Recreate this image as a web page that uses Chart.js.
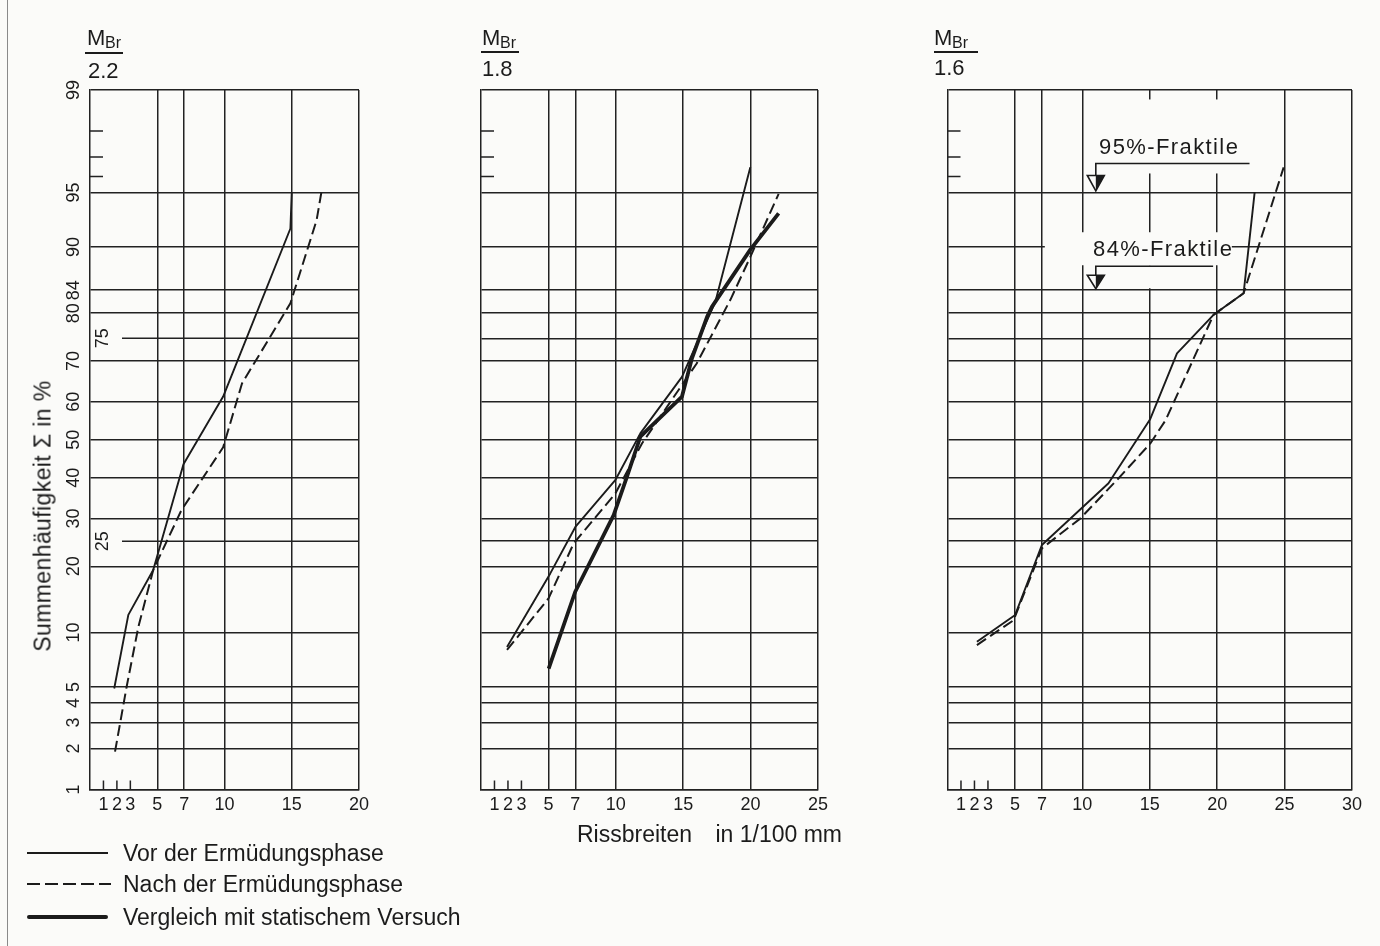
<!DOCTYPE html>
<html lang="de">
<head>
<meta charset="utf-8">
<title>Rissbreiten - Summenhäufigkeit</title>
<script src="https://cdn.jsdelivr.net/npm/chart.js"></script>
<style>
  html, body { margin: 0; padding: 0; }
  body {
    width: 1380px; height: 946px; position: relative; overflow: hidden;
    background: #fbfbf9; color: #1b1b1b;
    font-family: "Liberation Sans", Arial, sans-serif;
  }
  canvas { position: absolute; left: 0; top: 0; }
  .t { position: absolute; white-space: pre; line-height: 1; }
  .bar { position: absolute; height: 2px; background: #1b1b1b; }
  .edge { position: absolute; left: 7px; top: 0; width: 1px; height: 946px; background: #8a8a8a; }
  .lg { position: absolute; left: 27px; width: 81px; background: #1b1b1b; }
</style>
</head>
<body>
<div class="edge"></div>
<canvas id="p1" width="1380" height="946"></canvas>
<canvas id="p2" width="1380" height="946"></canvas>
<canvas id="p3" width="1380" height="946"></canvas>

<!-- panel headers -->
<div class="t" style="left:87px;top:27px;font-size:22px">M</div>
<div class="t" style="left:105px;top:35px;font-size:16px">Br</div>
<div class="bar" style="left:85px;top:52px;width:38px"></div>
<div class="t" style="left:88px;top:60px;font-size:22px">2.2</div>

<div class="t" style="left:482px;top:27px;font-size:22px">M</div>
<div class="t" style="left:500px;top:35px;font-size:16px">Br</div>
<div class="bar" style="left:481px;top:51px;width:38px"></div>
<div class="t" style="left:482px;top:58px;font-size:22px">1.8</div>

<div class="t" style="left:934px;top:27px;font-size:22px">M</div>
<div class="t" style="left:952px;top:35px;font-size:16px">Br</div>
<div class="bar" style="left:934px;top:51px;width:44px"></div>
<div class="t" style="left:934px;top:57px;font-size:22px">1.6</div>

<!-- axis titles -->
<div class="t" style="left:43px;top:516px;font-size:23px;letter-spacing:0.4px;transform:translate(-50%,-50%) rotate(-90deg)">Summenhäufigkeit Σ in %</div>
<div class="t" style="left:577px;top:823px;font-size:23px"><span style="margin-right:17px">Rissbreiten</span> in 1/100 mm</div>

<!-- fractile notes -->
<div class="t" style="left:1099px;top:136px;font-size:22px;letter-spacing:1.4px">95%-Fraktile</div>
<div class="t" style="left:1093px;top:238px;font-size:22px;letter-spacing:1.4px">84%-Fraktile</div>

<!-- legend -->
<div class="lg" style="top:852px;height:2px"></div>
<div class="lg" style="top:883px;height:2px;width:84px;background:repeating-linear-gradient(90deg,#1b1b1b 0 13px,transparent 13px 18px)"></div>
<div class="lg" style="top:915px;height:4px;border-radius:2px"></div>
<div class="t" style="left:123px;top:842px;font-size:23px">Vor der Ermüdungsphase</div>
<div class="t" style="left:123px;top:873px;font-size:23px">Nach der Ermüdungsphase</div>
<div class="t" style="left:123px;top:906px;font-size:23px">Vergleich mit statischem Versuch</div>

<script>
// probability-paper ticks (percent) and crack width ticks (1/100 mm)
const yTickValues = [1, 2, 3, 4, 5, 10, 20, 25, 30, 40, 50, 60, 70, 75, 80, 84, 90, 95, 96, 97, 98, 99];
const yShortTicks = [96, 97, 98];
const yInsideLabels = [25, 75];
const xTicks1 = [1, 2, 3, 5, 7, 10, 15, 20];
const xTicks2 = [1, 2, 3, 5, 7, 10, 15, 20, 25];
const xTicks3 = [1, 2, 3, 5, 7, 10, 15, 20, 25, 30];
const xShortTicks = [1, 2, 3];

// M_Br / 2.2
const vor1X = [1.8, 2.85, 4.7, 6.95, 9.9, 14.9, 15.0];
const vor1Y = [4.9, 12.2, 19.3, 43.5, 61.3, 92, 95];
const nach1X = [1.86, 2.72, 3.6, 4.7, 6.8, 9.9, 11.3, 14.9, 16.85, 17.2];
const nach1Y = [1.9, 5.0, 10.7, 19.3, 32, 48, 64.6, 81.8, 92.8, 95];

// M_Br / 1.8
const vor2X = [1.93, 5.14, 7.0, 9.96, 11.82, 14.91, 17.39, 19.98];
const vor2Y = [8.4, 18.7, 28.1, 39.4, 51.7, 66.2, 82.1, 96.5];
const nach2X = [1.93, 5.02, 6.87, 9.96, 11.94, 16.0, 18.5, 19.98, 22.08];
const nach2Y = [8.1, 14.6, 24.5, 36, 49, 69.4, 82.4, 88.8, 94.9];
const stat2X = [5.02, 6.99, 9.84, 10.83, 11.82, 14.91, 15.65, 16.77, 17.14, 19.98, 22.08];
const stat2Y = [6.4, 15.6, 30.8, 40.3, 50.8, 61.3, 70.6, 79.3, 81.2, 89.7, 93.4];

// M_Br / 1.6
const vor3X = [2.18, 5.02, 7.0, 11.94, 15.04, 17.02, 19.73, 21.96, 22.78];
const vor3Y = [8.95, 12.2, 24.2, 38.6, 55.5, 71.7, 79.7, 83.5, 95];
const nach3X = [2.18, 4.9, 7.0, 9.84, 12.69, 15.04, 16.18, 19.73, 21.96, 24.93];
const nach3Y = [8.6, 11.5, 23.5, 30, 39.9, 49, 55.2, 79.7, 83.5, 96.5];

// fractile markers in the third panel
const fraktileLevels = [95, 84];
const fraktileAtX = 11;
const fraktileLeaderEndX = [22.4, 19.7];

const W = 1380, H = 946, AXIS_W = 40, AXIS_H = 40;
const INK = '#1b1b1b', GRID = '#222222', GRID_W = 1.5, BG = '#fbfbf9';
const FONT = 'Liberation Sans';
const TICK_SIZE = 18;

/* inverse of the normal distribution (Acklam) and its cdf */
function probit(p) {
  const a = [-39.69683028665376, 220.9460984245205, -275.9285104469687, 138.3577518672690, -30.66479806614716, 2.506628277459239];
  const b = [-54.47609879822406, 161.5858368580409, -155.6989798598866, 66.80131188771972, -13.28068155288572];
  const c = [-0.007784894002430293, -0.3223964580411365, -2.400758277161838, -2.549732539343734, 4.374664141464968, 2.938163982698783];
  const d = [0.007784695709041462, 0.3224671290700398, 2.445134137142996, 3.754408661907416];
  let q, r;
  if (p < 0.02425) {
    q = Math.sqrt(-2 * Math.log(p));
    return (((((c[0]*q+c[1])*q+c[2])*q+c[3])*q+c[4])*q+c[5]) / ((((d[0]*q+d[1])*q+d[2])*q+d[3])*q+1);
  }
  if (p <= 1 - 0.02425) {
    q = p - 0.5; r = q * q;
    return (((((a[0]*r+a[1])*r+a[2])*r+a[3])*r+a[4])*r+a[5])*q / (((((b[0]*r+b[1])*r+b[2])*r+b[3])*r+b[4])*r+1);
  }
  q = Math.sqrt(-2 * Math.log(1 - p));
  return -(((((c[0]*q+c[1])*q+c[2])*q+c[3])*q+c[4])*q+c[5]) / ((((d[0]*q+d[1])*q+d[2])*q+d[3])*q+1);
}
function normCdf(z) {
  const t = 1 / (1 + 0.2316419 * Math.abs(z));
  const p = 0.3989423 * Math.exp(-z * z / 2) * t * (0.3193815 + t * (-0.3565638 + t * (1.781478 + t * (-1.821256 + t * 1.330274))));
  return z > 0 ? 1 - p : p;
}

/* normal probability scale for the y axis */
class ProbitScale extends Chart.Scale {
  determineDataLimits() {
    this.min = this.options.min;
    this.max = this.options.max;
  }
  buildTicks() {
    return yTickValues.map(v => ({ value: v }));
  }
  configure() {
    super.configure();
    this._zMin = probit(this.min / 100);
    this._zMax = probit(this.max / 100);
  }
  getLabelForValue(v) { return String(v); }
  getPixelForValue(v) {
    const z = probit(v / 100);
    return this.getPixelForDecimal((z - this._zMin) / (this._zMax - this._zMin));
  }
  getValueForPixel(px) {
    const dec = this.getDecimalForPixel(px);
    return 100 * normCdf(this._zMin + dec * (this._zMax - this._zMin));
  }
}
ProbitScale.id = 'probit';
ProbitScale.defaults = {};
Chart.register(ProbitScale);

const seriesStyle = {
  vor:  { label: 'Vor der Ermüdungsphase', borderWidth: 1.9, borderDash: [] },
  nach: { label: 'Nach der Ermüdungsphase', borderWidth: 2, borderDash: [11, 5] },
  stat: { label: 'Vergleich mit statischem Versuch', borderWidth: 3.8, borderDash: [] }
};

const panels = [
  { canvas: 'p1', xMax: 20, xTicks: xTicks1, area: { left: 90, right: 359, top: 90, bottom: 789.5 },
    yLabels: true, insideLabels: true, fraktile: false,
    series: [[vor1X, vor1Y, 'vor'], [nach1X, nach1Y, 'nach']] },
  { canvas: 'p2', xMax: 25, xTicks: xTicks2, area: { left: 481, right: 818, top: 90, bottom: 789.5 },
    yLabels: false, insideLabels: false, fraktile: false,
    series: [[vor2X, vor2Y, 'vor'], [nach2X, nach2Y, 'nach'], [stat2X, stat2Y, 'stat']] },
  { canvas: 'p3', xMax: 30, xTicks: xTicks3, area: { left: 947.5, right: 1352, top: 90, bottom: 789.5 },
    yLabels: false, insideLabels: false, fraktile: true,
    series: [[vor3X, vor3Y, 'vor'], [nach3X, nach3Y, 'nach']] }
];

// short ticks, the inset 25/75 lines and the fractile arrows
function paperMarks(panel) {
  return {
    id: 'paperMarks',
    beforeDatasetsDraw(chart) {
      const ctx = chart.ctx, xs = chart.scales.x, ys = chart.scales.y;
      const { left, right, bottom } = chart.chartArea;
      ctx.save();
      ctx.strokeStyle = GRID;
      ctx.lineWidth = GRID_W;
      ctx.beginPath();
      yShortTicks.forEach(v => {
        const y = ys.getPixelForValue(v);
        ctx.moveTo(left, y); ctx.lineTo(left + 13, y);
      });
      xShortTicks.forEach(v => {
        const x = xs.getPixelForValue(v);
        ctx.moveTo(x, bottom); ctx.lineTo(x, bottom - 9);
      });
      if (panel.insideLabels) {
        yInsideLabels.forEach(v => {
          const y = ys.getPixelForValue(v);
          ctx.moveTo(left + 32, y); ctx.lineTo(right, y);
        });
      }
      ctx.stroke();

      if (panel.insideLabels) {
        ctx.fillStyle = INK;
        ctx.font = TICK_SIZE + 'px "' + FONT + '"';
        ctx.textAlign = 'center';
        ctx.textBaseline = 'middle';
        yInsideLabels.forEach(v => {
          ctx.save();
          ctx.translate(left + 13, ys.getPixelForValue(v));
          ctx.rotate(-Math.PI / 2);
          ctx.fillText(String(v), 0, 0);
          ctx.restore();
        });
      }

      if (panel.fraktile) {
        const boxes = [
          [[-8, 160, -93, -19]],
          [[-51, 136, -58, -25], [-8, 64, -25, -2]]
        ];
        const leaderUp = [29, 24];
        const triUp = [17, 15];
        fraktileLevels.forEach((lvl, i) => {
          const tx = xs.getPixelForValue(fraktileAtX);
          const ty = ys.getPixelForValue(lvl);
          ctx.fillStyle = BG;
          boxes[i].forEach(([x0, x1, y0, y1]) => ctx.fillRect(tx + x0, ty + y0, x1 - x0, y1 - y0));
          const ly = ty - leaderUp[i], top = ty - triUp[i], tip = ty - 1.5;
          ctx.strokeStyle = INK;
          ctx.lineWidth = 1.6;
          ctx.beginPath();
          ctx.moveTo(xs.getPixelForValue(fraktileLeaderEndX[i]), ly);
          ctx.lineTo(tx, ly);
          ctx.lineTo(tx, top);
          ctx.stroke();
          ctx.beginPath();
          ctx.moveTo(tx - 8.5, top); ctx.lineTo(tx + 8.5, top); ctx.lineTo(tx, tip); ctx.closePath();
          ctx.stroke();
          ctx.fillStyle = INK;
          ctx.beginPath();
          ctx.moveTo(tx, top); ctx.lineTo(tx + 8.5, top); ctx.lineTo(tx, tip); ctx.closePath();
          ctx.fill();
        });
      }
      ctx.restore();
    }
  };
}

panels.forEach(p => {
  const datasets = p.series.map(([xs, ys, kind]) => ({
    label: seriesStyle[kind].label,
    data: xs.map((x, i) => ({ x: x, y: ys[i] })),
    borderColor: INK,
    borderWidth: seriesStyle[kind].borderWidth,
    borderDash: seriesStyle[kind].borderDash,
    borderJoinStyle: 'round',
    pointRadius: 0,
    tension: 0,
    fill: false
  }));
  const yHidden = p.insideLabels ? yShortTicks.concat(yInsideLabels) : yShortTicks;
  new Chart(document.getElementById(p.canvas), {
    type: 'line',
    data: { datasets: datasets },
    options: {
      responsive: false,
      animation: false,
      devicePixelRatio: 1,
      layout: {
        padding: { left: p.area.left - AXIS_W, right: W - p.area.right, top: p.area.top, bottom: H - p.area.bottom - AXIS_H }
      },
      plugins: { legend: { display: false }, tooltip: { enabled: false } },
      scales: {
        x: {
          type: 'linear', min: 0, max: p.xMax,
          afterBuildTicks: s => { s.ticks = p.xTicks.map(v => ({ value: v })); },
          afterFit: s => { s.height = AXIS_H; },
          grid: { color: c => xShortTicks.includes(c.tick.value) ? 'rgba(0,0,0,0)' : GRID, lineWidth: GRID_W, drawTicks: false },
          border: { color: GRID, width: GRID_W },
          ticks: { font: { family: FONT, size: TICK_SIZE }, color: INK, padding: 5, autoSkip: false, maxRotation: 0 }
        },
        y: {
          type: 'probit', min: 1, max: 99,
          afterFit: s => { s.width = AXIS_W; },
          grid: { color: c => yHidden.includes(c.tick.value) ? 'rgba(0,0,0,0)' : GRID, lineWidth: GRID_W, drawTicks: false },
          border: { color: GRID, width: GRID_W },
          ticks: {
            display: p.yLabels, font: { family: FONT, size: TICK_SIZE }, color: INK,
            padding: 6, crossAlign: 'center', minRotation: 90, maxRotation: 90, autoSkip: false,
            callback: v => yHidden.includes(v) ? '' : String(v)
          }
        }
      }
    },
    plugins: [paperMarks(p)]
  });
});
</script>
</body>
</html>
